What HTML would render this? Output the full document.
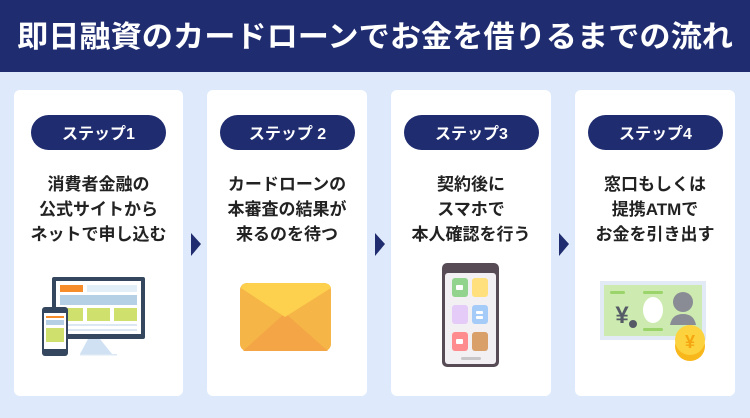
<!DOCTYPE html>
<html><head><meta charset="utf-8"><style>
body{margin:0;width:750px;height:413px;overflow:hidden;background:#deeafb;font-family:"Liberation Sans","Noto Sans CJK JP",sans-serif;}
</style></head><body>
<svg width="750" height="413" xmlns="http://www.w3.org/2000/svg" font-family="'Liberation Sans','Noto Sans CJK JP',sans-serif">
<rect width="750" height="413" fill="#deeafb"/>
<rect width="750" height="72" fill="#1f2c70"/>
<text x="17" y="47" fill="#fff" font-size="30" font-weight="bold" textLength="716" lengthAdjust="spacingAndGlyphs">即日融資のカードローンでお金を借りるまでの流れ</text>
<g fill="#fff">
<rect x="14" y="90" width="169" height="306" rx="6"/>
<rect x="207" y="90" width="160" height="306" rx="6"/>
<rect x="391" y="90" width="160" height="306" rx="6"/>
<rect x="575" y="90" width="160" height="306" rx="6"/>
</g>
<g fill="#1f2c70">
<rect x="31" y="115" width="135" height="35" rx="17.5"/>
<rect x="220" y="115" width="135" height="35" rx="17.5"/>
<rect x="404" y="115" width="135" height="35" rx="17.5"/>
<rect x="588" y="115" width="135" height="35" rx="17.5"/>
<polygon points="191,233 201,244 191,256"/>
<polygon points="375,233 385,244 375,256"/>
<polygon points="559,233 569,244 559,256"/>
</g>
<g fill="#fff" font-size="16" font-weight="bold" text-anchor="middle">
<text x="98.5" y="139">ステップ1</text>
<text x="287.5" y="139">ステップ 2</text>
<text x="471.5" y="139">ステップ3</text>
<text x="655.5" y="139">ステップ4</text>
</g>
<g fill="#222" font-size="17" font-weight="bold" text-anchor="middle">
<text x="98.5" y="190">消費者金融の</text>
<text x="98.5" y="215">公式サイトから</text>
<text x="98.5" y="240">ネットで申し込む</text>
<text x="287" y="190">カードローンの</text>
<text x="287" y="215">本審査の結果が</text>
<text x="287" y="240">来るのを待つ</text>
<text x="471" y="190">契約後に</text>
<text x="471" y="215">スマホで</text>
<text x="471" y="240">本人確認を行う</text>
<text x="655" y="190">窓口もしくは</text>
<text x="655" y="215">提携ATMで</text>
<text x="655" y="240">お金を引き出す</text>
</g>
<!-- computer -->
<polygon points="88,339 100,339 112,354 80,354" fill="#cfe1f3"/>
<rect x="52" y="277" width="93" height="62" rx="2" fill="#34475f"/>
<rect x="56" y="281" width="85" height="53" fill="#fff"/>
<rect x="60" y="285" width="23" height="7" fill="#f78c2a"/>
<rect x="87" y="285" width="50" height="7" fill="#e2eef8"/>
<rect x="60" y="295" width="77" height="10" fill="#b5cfe5"/>
<rect x="60" y="308" width="23" height="13" fill="#cfe06c"/>
<rect x="87" y="308" width="23" height="13" fill="#cfe06c"/>
<rect x="114" y="308" width="23" height="13" fill="#cfe06c"/>
<rect x="60" y="324" width="77" height="2" fill="#dbe8f4"/>
<rect x="60" y="329" width="77" height="2" fill="#dbe8f4"/>
<rect x="80" y="354" width="37" height="1.5" fill="#dbe8f4"/>
<rect x="42" y="307" width="26" height="49" rx="3" fill="#34475f"/>
<rect x="44" y="313" width="22" height="36" fill="#fff"/>
<rect x="46" y="316" width="18" height="2" fill="#f78c2a"/>
<rect x="46" y="320" width="18" height="5" fill="#b5cfe5"/>
<rect x="46" y="328" width="18" height="14" fill="#cfe06c"/>
<!-- envelope -->
<rect x="240" y="283" width="91" height="68" rx="7" fill="#f5b547"/>
<polygon points="243,351 285,313 328,351" fill="#f4a646"/>
<path d="M241,288 Q242,283 248,283 L323,283 Q330,283 331,288 L285,317 Z" fill="#fdd04d"/>
<!-- phone -->
<rect x="442" y="263" width="57" height="104" rx="5" fill="#574c56"/>
<rect x="445" y="273" width="51" height="91" rx="3" fill="#f2f0f2"/>
<path d="M455,266 L486,266 L482,270 L459,270 Z" fill="#574c56"/>
<rect x="452" y="278" width="16" height="19" rx="3" fill="#92d38e"/>
<rect x="472" y="278" width="16" height="19" rx="3" fill="#ffe07d"/>
<rect x="452" y="305" width="16" height="19" rx="3" fill="#e4cbf8"/>
<rect x="472" y="305" width="16" height="19" rx="3" fill="#a5cbf8"/>
<rect x="452" y="332" width="16" height="19" rx="3" fill="#fe8b8e"/>
<rect x="472" y="332" width="16" height="19" rx="3" fill="#d9a06a"/>
<rect x="456" y="285" width="7" height="5" rx="1" fill="#fff"/>
<rect x="476" y="311" width="7" height="3" rx="1" fill="#fff"/>
<rect x="476" y="316" width="7" height="3" rx="1" fill="#fff"/>
<rect x="456" y="339" width="7" height="5" rx="1" fill="#fff"/>
<rect x="461" y="357" width="20" height="3" rx="1.5" fill="#c9c6c9"/>
<!-- bill -->
<rect x="600" y="281" width="106" height="59" fill="#e2eaf6"/>
<rect x="604" y="285" width="98" height="51" fill="#cdebb0"/>
<rect x="610" y="291" width="15" height="3" rx="1.5" fill="#9bd46a"/>
<rect x="643" y="291" width="20" height="3" rx="1.5" fill="#9bd46a"/>
<rect x="643" y="328" width="20" height="3" rx="1.5" fill="#9bd46a"/>
<ellipse cx="653" cy="310" rx="10" ry="13" fill="#fff"/>
<text x="622" y="323" font-size="24" font-weight="bold" fill="#555a66" text-anchor="middle">¥</text>
<circle cx="633" cy="324" r="4" fill="#555a66"/>
<circle cx="683" cy="302" r="10" fill="#8a8c95"/>
<path d="M670,325 Q672,314 683,314 Q694,314 696,325 Z" fill="#8a8c95"/>
<circle cx="690" cy="346" r="15" fill="#f8b81c"/>
<circle cx="690" cy="340" r="15" fill="#fcd23e"/>
<text x="690" y="348" font-size="18" font-weight="bold" fill="#f5a50f" text-anchor="middle">¥</text>
</svg>
</body></html>
